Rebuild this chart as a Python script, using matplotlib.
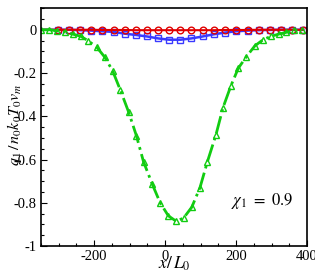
import numpy as np
import matplotlib
matplotlib.use('Agg')
import matplotlib.pyplot as plt
from matplotlib.ticker import MultipleLocator

plt.rcParams['font.family'] = ['Liberation Serif', 'DejaVu Serif']
plt.rcParams['mathtext.fontset'] = 'stix'

# red circles / blue squares share the coarse grid
x_coarse = [-350, -302, -271, -240, -208, -177, -145, -114, -83, -51, -20, 11,
            43, 74, 106, 137, 169, 200, 232, 263, 295, 326, 358, 389]
q_red = [0, 0, 0, 0, 0, -0.001, -0.001, -0.001, -0.002, -0.002, -0.002, -0.002,
         -0.002, -0.002, -0.002, -0.002, -0.001, -0.001, -0.001, 0, 0, 0, 0, 0]
q_blue = [0, 0, 0, -0.002, -0.004, -0.007, -0.01, -0.018, -0.024, -0.031, -0.04, -0.046,
          -0.046, -0.04, -0.031, -0.021, -0.013, -0.007, -0.004, -0.002, -0.001, 0, 0, 0]

# green triangles
x_green = [-350, -326, -305, -282, -261, -238, -218, -193, -170, -148, -126, -103,
           -81, -61, -36, -14, 9, 31, 52, 75, 98, 119, 143, 163, 185, 206, 229,
           253, 276, 297, 320, 341, 364, 386]
q_green = [0, 0, -0.005, -0.01, -0.02, -0.03, -0.05, -0.08, -0.127, -0.19, -0.28, -0.38,
           -0.49, -0.61, -0.715, -0.80, -0.86, -0.885, -0.87, -0.82, -0.73, -0.61,
           -0.486, -0.36, -0.26, -0.178, -0.124, -0.074, -0.046, -0.031, -0.02,
           -0.012, -0.003, 0]

fig = plt.figure(figsize=(3.15, 2.8), dpi=100)
ax = fig.add_axes([0.130, 0.121, 0.845, 0.850])

ax.plot(x_coarse, q_blue, '-', color='#3a3aff', lw=1.8, marker='s', ms=4,
        mfc='none', mew=1.0, markevery=slice(1, None))
ax.plot(x_coarse, q_red, '-', color='#e00000', lw=1.5, marker='o', ms=4.8,
        mfc='none', mew=1.0, markevery=slice(1, None))
ax.plot(x_green, q_green, '-.', color='#11cc11', lw=2.0, marker='^', ms=5,
        mfc='none', mew=1.0)

ax.set_xlim(-350, 400)
ax.set_ylim(-1, 0.1)
ax.xaxis.set_major_locator(MultipleLocator(200))
ax.xaxis.set_minor_locator(MultipleLocator(50))
ax.yaxis.set_major_locator(MultipleLocator(0.2))
ax.yaxis.set_minor_locator(MultipleLocator(0.05))
ax.set_yticks([-1, -0.8, -0.6, -0.4, -0.2, 0])
ax.set_yticklabels(['-1', '-0.8', '-0.6', '-0.4', '-0.2', '0'])
ax.set_xticks([-200, 0, 200, 400])
ax.set_xticklabels(['-200', '0', '200', '400'])
ax.tick_params(which='both', direction='in', top=False, right=False,
               labelsize=10.5, pad=3)
ax.tick_params(which='major', length=4, width=0.8)
ax.tick_params(which='minor', length=2.5, width=0.8)
for s in ax.spines.values():
    s.set_linewidth(1.2)

ax.set_xlabel(r'$x/\,L_0$', fontsize=12.5)
ax.xaxis.set_label_coords(0.5, -0.035)
ax.xaxis.label.set_va('top')
ax.set_ylabel(r'$q_1\,/\,n_0k_0T_0v_m$', fontsize=11.5)
ax.yaxis.set_label_coords(-0.065, 0.51)

ax.text(186, -0.79, r'$\chi_1\ =\ 0.9$', fontsize=12, ha='left', va='center')

fig.savefig('out.png', dpi=100)
